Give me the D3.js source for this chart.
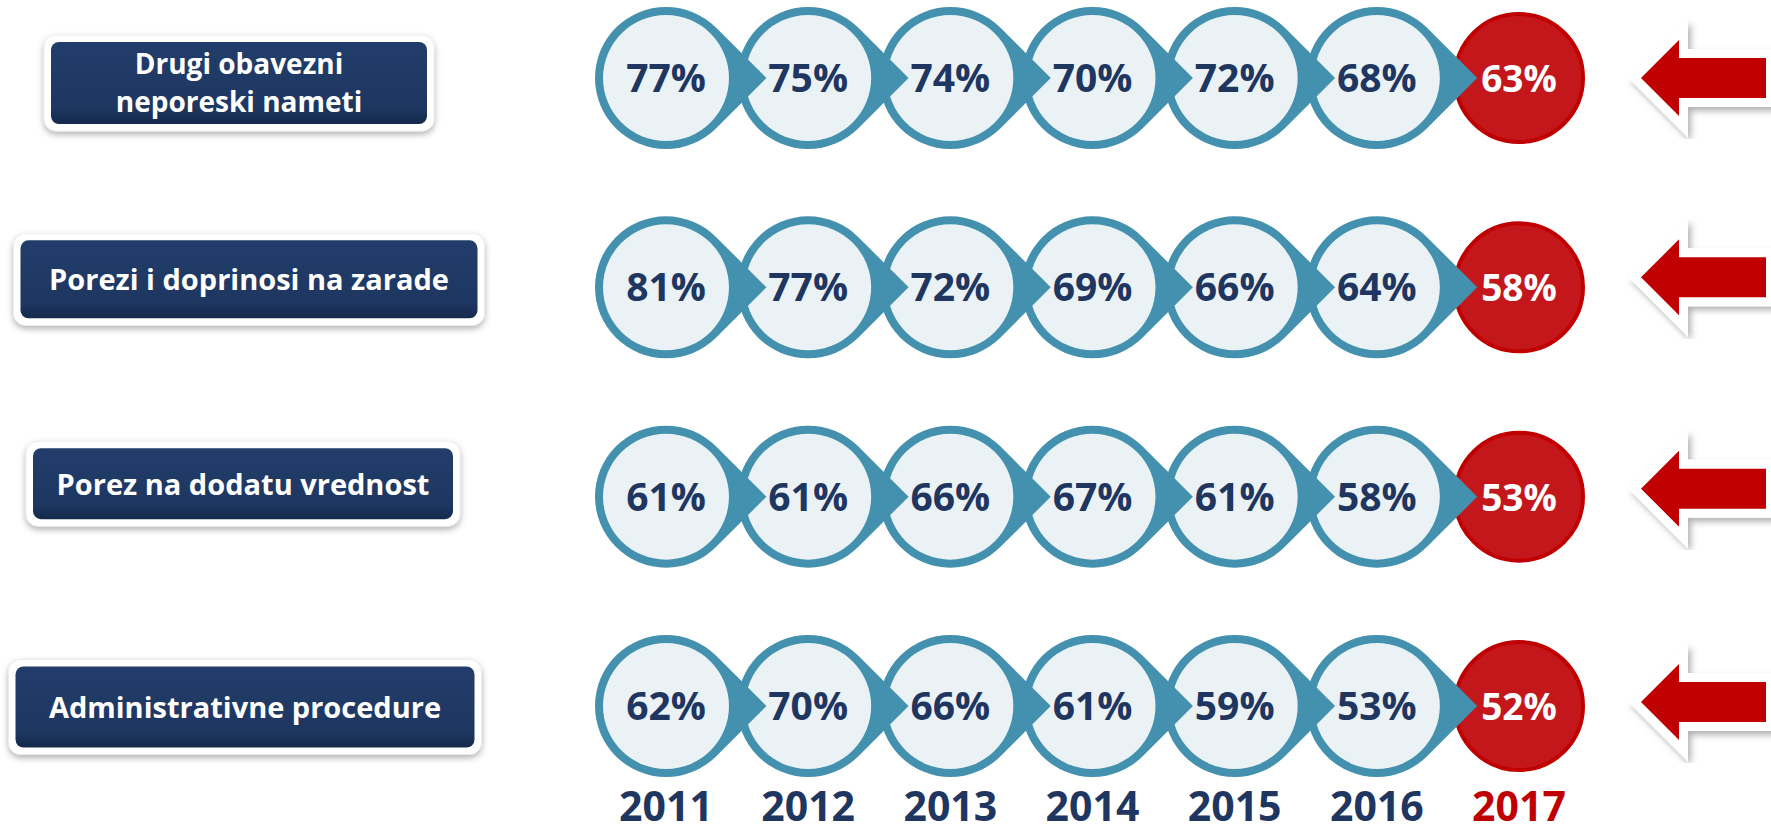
<!DOCTYPE html>
<html>
<head>
<meta charset="utf-8">
<script src="https://cdnjs.cloudflare.com/ajax/libs/d3/7.8.5/d3.min.js"></script>
<style>
    body { margin: 0; background: #fff; }
    svg { display: block; font-family: "Open Sans", sans-serif; }
</style>
</head>
<body>
<svg width="1771" height="834"></svg>
<script>
// data
var years = ["2011", "2012", "2013", "2014", "2015", "2016", "2017"];
var categories = ["Drugi obavezni\nneporeski nameti", "Porezi i doprinosi na zarade",
    "Porez na dodatu vrednost", "Administrativne procedure"];
var drugiNameti = [77, 75, 74, 70, 72, 68, 63];
var poreziNaZarade = [81, 77, 72, 69, 66, 64, 58];
var porezNaDodatu = [61, 61, 66, 67, 61, 58, 53];
var adminProcedure = [62, 70, 66, 61, 59, 53, 52];

(function () {
    var series = [drugiNameti, poreziNaZarade, porezNaDodatu, adminProcedure];

    var svg = d3.select("svg");

    var navy = "#1e3660",
        teal = "#4391ae",
        pale = "#eaf2f6",
        red = "#c00000",
        redFill = "#c4171b";

    var outerR = 71,
        ringW = 8,
        redR = 64;

    var scaleX = d3.scalePoint().domain(years).range([666, 1519]),
        scaleY = d3.scalePoint().domain(categories).range([78, 706]);

    // label boxes and arrows are not quite on the row lines in the original
    var boxLayout = [
        {cx: 239, w: 376, h: 82, dy: 5},
        {cx: 249, w: 457, h: 78, dy: -8},
        {cx: 243, w: 420, h: 71, dy: -13},
        {cx: 245, w: 459, h: 81, dy: 1}
    ];
    var arrowDy = [0, -10, -8, -4];

    var defs = svg.append("defs");

    var grad = defs.append("linearGradient")
        .attr("id", "boxGrad")
        .attr("x1", 0).attr("y1", 0).attr("x2", 0).attr("y2", 1);
    grad.append("stop").attr("offset", "0%").attr("stop-color", "#223d6b");
    grad.append("stop").attr("offset", "80%").attr("stop-color", "#1e3761");
    grad.append("stop").attr("offset", "100%").attr("stop-color", "#14294b");

    var shadow = defs.append("filter").attr("id", "shadow")
        .attr("x", "-20%").attr("y", "-20%").attr("width", "140%").attr("height", "150%");
    shadow.append("feDropShadow")
        .attr("dx", 0).attr("dy", 3).attr("stdDeviation", 3)
        .attr("flood-color", "#000").attr("flood-opacity", 0.3);

    var arrowShadow = defs.append("filter").attr("id", "arrowShadow")
        .attr("x", "-20%").attr("y", "-30%").attr("width", "140%").attr("height", "160%");
    arrowShadow.append("feDropShadow")
        .attr("dx", 3).attr("dy", 4).attr("stdDeviation", 3)
        .attr("flood-color", "#000").attr("flood-opacity", 0.3);

    function teardrop(cx, cy, r) {
        var k = r * Math.SQRT1_2;
        return "M" + (cx + k) + "," + (cy - k) +
            "L" + (cx + r * Math.SQRT2) + "," + cy +
            "L" + (cx + k) + "," + (cy + k) +
            "A" + r + "," + r + " 0 1 1 " + (cx + k) + "," + (cy - k) + "Z";
    }

    function arrowPath(cy) {
        var tip = 1641, base = 1679, end = 1766, head = 38, shaft = 20;
        return "M" + tip + "," + cy +
            "L" + base + "," + (cy - head) +
            "L" + base + "," + (cy - shaft) +
            "L" + end + "," + (cy - shaft) +
            "L" + end + "," + (cy + shaft) +
            "L" + base + "," + (cy + shaft) +
            "L" + base + "," + (cy + head) + "Z";
    }

    ////////////////////////////////////////////////////////////////////////////
    // category label boxes
    var labels = svg.append("g").attr("class", "labels")
        .selectAll("g")
        .data(categories)
        .enter().append("g");

    labels.each(function (c, i) {
        var g = d3.select(this),
            b = boxLayout[i],
            cy = scaleY(c) + b.dy,
            lines = c.split("\n"),
            twoLines = lines.length > 1;

        g.append("rect")
            .attr("x", b.cx - b.w / 2 - 7)
            .attr("y", cy - b.h / 2 - 7)
            .attr("width", b.w + 14)
            .attr("height", b.h + 14)
            .attr("rx", 12)
            .attr("fill", "#fff")
            .attr("stroke", "#ececec")
            .attr("filter", "url(#shadow)");

        g.append("rect")
            .attr("x", b.cx - b.w / 2)
            .attr("y", cy - b.h / 2)
            .attr("width", b.w)
            .attr("height", b.h)
            .attr("rx", 8)
            .attr("fill", "url(#boxGrad)");

        g.selectAll("text")
            .data(lines)
            .enter().append("text")
            .attr("x", b.cx)
            .attr("y", function (d, j) {
                return twoLines ? cy + 10 + (j - 0.5) * 38.5 : cy + 11;
            })
            .attr("text-anchor", "middle")
            .attr("fill", "#fff")
            .style("font-size", twoLines ? "28px" : "29px")
            .style("font-weight", 700)
            .text(function (d) {
                return d;
            });
    });

    ////////////////////////////////////////////////////////////////////////////
    // rows of circles, drawn right to left so each tip sits on the next circle
    var rows = svg.append("g").attr("class", "rows")
        .selectAll("g")
        .data(categories)
        .enter().append("g");

    rows.each(function (c, i) {
        var g = d3.select(this),
            cy = scaleY(c),
            pts = years.map(function (y, j) {
                return {year: y, value: series[i][j], last: j === years.length - 1};
            }).reverse();

        var cell = g.selectAll("g")
            .data(pts)
            .enter().append("g");

        cell.filter(function (d) { return d.last; })
            .append("circle")
            .attr("cx", function (d) { return scaleX(d.year); })
            .attr("cy", cy)
            .attr("r", redR)
            .attr("fill", redFill)
            .attr("stroke", red)
            .attr("stroke-width", 4);

        var normal = cell.filter(function (d) { return !d.last; });
        normal.append("path")
            .attr("d", function (d) {
                return teardrop(scaleX(d.year), cy, outerR);
            })
            .attr("fill", teal);
        normal.append("circle")
            .attr("cx", function (d) { return scaleX(d.year); })
            .attr("cy", cy)
            .attr("r", outerR - ringW)
            .attr("fill", pale);

        cell.append("text")
            .attr("x", function (d) { return scaleX(d.year); })
            .attr("y", cy + 14)
            .attr("text-anchor", "middle")
            .attr("fill", function (d) { return d.last ? "#fff" : navy; })
            .style("font-size", function (d) { return d.last ? "37px" : "39px"; })
            .style("font-weight", 700)
            .text(function (d) {
                return d.value + "%";
            });

        // arrow pointing at the latest year
        var ay = cy + arrowDy[i];
        g.append("path")
            .attr("d", arrowPath(ay))
            .attr("fill", "#fff")
            .attr("stroke", "#fff")
            .attr("stroke-width", 18)
            .attr("stroke-linejoin", "miter")
            .attr("stroke-miterlimit", 4)
            .attr("filter", "url(#arrowShadow)");
        g.append("path")
            .attr("d", arrowPath(ay))
            .attr("fill", red);
    });

    ////////////////////////////////////////////////////////////////////////////
    // year labels
    svg.append("g").attr("class", "years")
        .selectAll("text")
        .data(years)
        .enter().append("text")
        .attr("x", function (d) { return scaleX(d); })
        .attr("y", 821)
        .attr("text-anchor", "middle")
        .attr("fill", function (d, i) { return i === years.length - 1 ? red : navy; })
        .style("font-size", "41px")
        .style("font-weight", 700)
        .text(function (d) {
            return d;
        });
})();
</script>
</body>
</html>
